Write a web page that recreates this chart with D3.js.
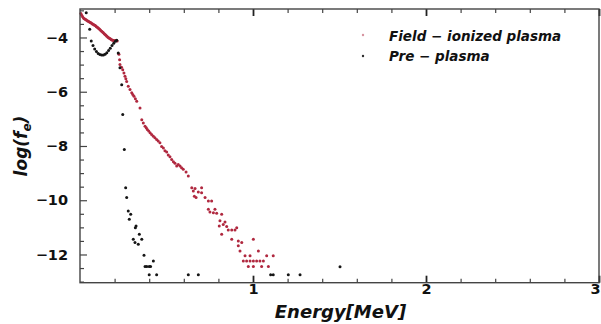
<!DOCTYPE html>
<html><head><meta charset="utf-8">
<script src="https://cdn.jsdelivr.net/npm/d3@7"></script>
<style>body{margin:0;background:#fff}svg{display:block}</style>
</head><body>
<script>
// ---- data ----
const fieldE = [0.005,0.010,0.015,0.020,0.025,0.030,0.035,0.040,0.045,0.050,0.055,0.060,0.065,0.070,0.075,0.080,0.085,0.090,0.095,0.100,0.105,0.110,0.115,0.120,0.125,0.130,0.135,0.140,0.145,0.150,0.155,0.160,0.165,0.170,0.175,0.180,0.185,0.190,0.195,0.200,0.205,0.210,0.215,
0.225,0.229,0.231,0.240,0.247,0.254,0.260,0.265,0.270,0.279,0.289,0.299,0.305,0.312,0.320,0.328,0.347,0.357,0.366,0.376,0.383,0.389,0.397,0.405,0.414,0.424,0.433,0.443,0.452,0.462,0.472,0.482,0.491,0.501,0.510,0.520,0.530,0.540,0.549,0.559,0.568,0.578,0.587,0.597,0.613,0.626,
0.646,0.655,0.661,0.665,0.671,0.684,0.703,0.703,0.723,0.742,0.742,0.751,0.761,0.771,0.780,0.790,0.805,0.809,0.819,0.819,0.828,0.838,0.848,0.857,0.877,0.877,0.896,0.906,0.915,0.915,0.925,0.935,0.944,0.954,0.963,0.973,0.983,0.983,1.002,1.002,1.002,1.021,1.031,1.040,1.050,1.060,1.079,1.089,1.117];
const fieldLog = [-3.12,-3.18,-3.24,-3.28,-3.31,-3.33,-3.35,-3.37,-3.39,-3.41,-3.43,-3.45,-3.47,-3.49,-3.51,-3.53,-3.55,-3.57,-3.60,-3.62,-3.65,-3.68,-3.71,-3.74,-3.77,-3.80,-3.83,-3.86,-3.89,-3.92,-3.95,-3.98,-4.01,-4.03,-4.05,-4.07,-4.09,-4.10,-4.11,-4.12,-4.12,-4.11,-4.13,
-4.62,-4.82,-5.00,-5.10,-5.19,-5.31,-5.43,-5.52,-5.62,-5.80,-5.92,-6.04,-6.10,-6.17,-6.26,-6.35,-6.60,-7.03,-7.15,-7.27,-7.33,-7.39,-7.45,-7.51,-7.58,-7.64,-7.70,-7.76,-7.82,-7.88,-8.02,-8.07,-8.18,-8.22,-8.33,-8.40,-8.50,-8.58,-8.64,-8.74,-8.68,-8.74,-8.80,-8.86,-8.96,-9.11,
-9.54,-9.66,-9.85,-9.57,-9.90,-9.70,-9.54,-9.72,-9.90,-10.03,-10.33,-10.43,-10.03,-10.46,-10.33,-10.48,-10.95,-10.76,-10.52,-11.25,-10.89,-10.80,-10.97,-11.10,-11.10,-11.44,-11.10,-11.01,-11.50,-11.68,-11.87,-11.56,-12.24,-12.05,-12.24,-12.44,-12.05,-12.24,-11.44,-12.24,-12.44,-12.24,-11.87,-12.24,-12.44,-12.24,-12.05,-12.44,-12.05];

const preE = [0.036,0.056,0.065,0.075,0.085,0.095,0.105,0.115,0.125,0.135,0.145,0.155,0.165,0.175,0.185,0.195,0.205,0.212,
0.221,0.231,0.241,0.247,0.256,0.264,0.270,0.279,0.285,0.293,0.308,0.318,0.320,0.324,0.337,0.343,0.357,0.370,0.376,0.386,0.400,0.408,0.424,0.400,0.443,0.626,0.684,1.102,1.117,1.204,1.272,1.503];
const preLog = [-3.09,-3.70,-4.13,-4.30,-4.42,-4.52,-4.59,-4.63,-4.65,-4.65,-4.62,-4.56,-4.48,-4.40,-4.30,-4.21,-4.14,-4.10,
-4.57,-5.12,-5.74,-6.84,-8.13,-9.54,-9.90,-10.40,-10.70,-10.52,-11.44,-11.56,-11.01,-10.95,-11.62,-11.25,-11.44,-12.03,-12.44,-12.44,-12.44,-12.44,-12.24,-12.75,-12.75,-12.75,-12.75,-12.75,-12.75,-12.75,-12.75,-12.45];

const seriesNames = ["Field \u2212 ionized plasma", "Pre \u2212 plasma"];
const xMajorTicks = [1, 2, 3];
const xMinorTicks = [0.2,0.4,0.6,0.8,1.2,1.4,1.6,1.8,2.2,2.4,2.6,2.8];
const yMajorTicks = [-12, -10, -8, -6, -4];
const yMinorTicks = [-13,-12.5,-11.5,-11,-10.5,-9.5,-9,-8.5,-7.5,-7,-6.5,-5.5,-5,-4.5,-3.5,-3];

// ---- layout ----
const W = 601, H = 324;
const L = 80, R = 599, T = 9, B = 282.7;
const svg = d3.select("body").append("svg").attr("width", W).attr("height", H);
const x = d3.scaleLinear().domain([0, 3]).range([L, R]);
const y = d3.scaleLinear().domain([-13.04, -2.95]).range([B, T]);
const FONT = "'DejaVu Sans', sans-serif";
const axisCol = "#444";

function styleAxis(g) {
  g.select(".domain").remove();
  g.selectAll("line").attr("stroke", axisCol).attr("stroke-width", 1.2);
  g.selectAll("text").attr("font-family", FONT).attr("font-weight", "bold").attr("font-size", 14.5).attr("fill", "#111");
}

// points
const field = fieldE.map((e, i) => ({ e, v: fieldLog[i] }));
const pre = preE.map((e, i) => ({ e, v: preLog[i] }));
svg.append("g").selectAll("circle").data(field).join("circle")
  .attr("cx", d => x(d.e)).attr("cy", d => y(d.v)).attr("r", 1.5).attr("fill", "#b0283f");
svg.append("g").selectAll("circle").data(pre).join("circle")
  .attr("cx", d => x(d.e)).attr("cy", d => y(d.v)).attr("r", 1.5).attr("fill", "#151515");

// axes
const bx = svg.append("g").attr("transform", `translate(0,${B})`)
  .call(d3.axisBottom(x).tickValues(xMajorTicks).tickSize(-7).tickPadding(1).tickFormat(d3.format("d"))).call(styleAxis);
bx.selectAll("line").attr("stroke-width", 1.8).attr("stroke", "#222");
bx.selectAll(".tick text").filter(d => d === 3).attr("text-anchor", "end").attr("dx", 1);
svg.append("g").attr("transform", `translate(0,${B})`)
  .call(d3.axisBottom(x).tickValues(xMinorTicks).tickSize(-4).tickFormat("")).call(styleAxis);
svg.append("g").attr("transform", `translate(0,${T})`)
  .call(d3.axisTop(x).tickValues(xMajorTicks).tickSize(-7).tickFormat("")).call(styleAxis)
  .selectAll("line").attr("stroke-width", 1.8).attr("stroke", "#222");
svg.append("g").attr("transform", `translate(0,${T})`)
  .call(d3.axisTop(x).tickValues(xMinorTicks).tickSize(-4).tickFormat("")).call(styleAxis);
svg.append("g").attr("transform", `translate(${L},0)`)
  .call(d3.axisLeft(y).tickValues(yMajorTicks).tickSize(-7).tickPadding(12).tickFormat(d3.format("d"))).call(styleAxis);
svg.append("g").attr("transform", `translate(${L},0)`)
  .call(d3.axisLeft(y).tickValues(yMinorTicks).tickSize(-4).tickFormat("")).call(styleAxis);

// frame
svg.append("rect").attr("x", L).attr("y", T).attr("width", R - L).attr("height", B - T)
  .attr("fill", "none").attr("stroke", axisCol).attr("stroke-width", 1.4);

// axis labels
svg.append("text").attr("x", (L + R) / 2 + 1).attr("y", 318).attr("text-anchor", "middle")
  .attr("font-family", FONT).attr("font-weight", "bold").attr("font-style", "italic").attr("font-size", 18)
  .attr("fill", "#111").text("Energy[MeV]");
const yl = svg.append("text").attr("transform", `translate(27,146) rotate(-90)`).attr("text-anchor", "middle")
  .attr("font-family", FONT).attr("font-weight", "bold").attr("font-style", "italic").attr("font-size", 17).attr("fill", "#111");
yl.append("tspan").text("log(f");
yl.append("tspan").attr("font-size", 12).attr("dy", 4).text("e");
yl.append("tspan").attr("dy", -4).text(")");

// legend
const legCols = ["#b0283f", "#151515"];
const leg = svg.append("g");
seriesNames.forEach((n, i) => {
  leg.append("circle").attr("cx", 363).attr("cy", 35 + i * 21).attr("r", 1.2).attr("fill", legCols[i]).attr("opacity", i === 0 ? 0.5 : 0.9);
  leg.append("text").attr("x", 389).attr("y", 41 + i * 20).attr("font-family", FONT).attr("font-weight", "bold")
    .attr("font-style", "italic").attr("font-size", 13.5).attr("fill", "#111").text(n);
});
</script>
</body></html>
